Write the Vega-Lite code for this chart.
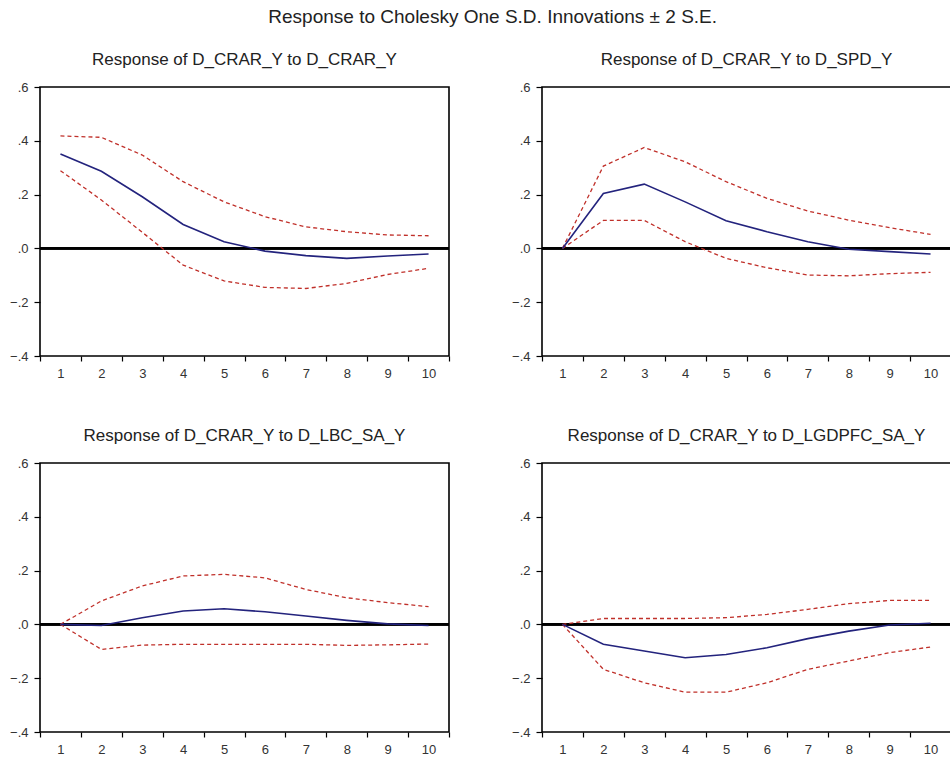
{
  "$schema": "https://vega.github.io/schema/vega-lite/v6.json",
  "background": "white",
  "padding": {"left": 8, "top": 8, "right": 0, "bottom": 0},
  "title": {"text": "Response to Cholesky One S.D. Innovations ± 2 S.E.", "fontSize": 19, "fontWeight": "normal", "color": "#222", "offset": 23, "anchor": "middle", "dx": 12},
  "datasets": {
    "irf": [
      {"shock": "D_CRAR_Y", "h": 1, "mid": 0.351, "lo": 0.289, "hi": 0.418},
      {"shock": "D_CRAR_Y", "h": 2, "mid": 0.287, "lo": 0.180, "hi": 0.413},
      {"shock": "D_CRAR_Y", "h": 3, "mid": 0.192, "lo": 0.060, "hi": 0.347},
      {"shock": "D_CRAR_Y", "h": 4, "mid": 0.089, "lo": -0.062, "hi": 0.248},
      {"shock": "D_CRAR_Y", "h": 5, "mid": 0.025, "lo": -0.121, "hi": 0.173},
      {"shock": "D_CRAR_Y", "h": 6, "mid": -0.010, "lo": -0.145, "hi": 0.118},
      {"shock": "D_CRAR_Y", "h": 7, "mid": -0.027, "lo": -0.149, "hi": 0.080},
      {"shock": "D_CRAR_Y", "h": 8, "mid": -0.037, "lo": -0.130, "hi": 0.062},
      {"shock": "D_CRAR_Y", "h": 9, "mid": -0.028, "lo": -0.097, "hi": 0.050},
      {"shock": "D_CRAR_Y", "h": 10, "mid": -0.021, "lo": -0.074, "hi": 0.047},
      {"shock": "D_SPD_Y", "h": 1, "mid": 0.0, "lo": 0.0, "hi": 0.0},
      {"shock": "D_SPD_Y", "h": 2, "mid": 0.204, "lo": 0.104, "hi": 0.306},
      {"shock": "D_SPD_Y", "h": 3, "mid": 0.239, "lo": 0.104, "hi": 0.375},
      {"shock": "D_SPD_Y", "h": 4, "mid": 0.173, "lo": 0.025, "hi": 0.322},
      {"shock": "D_SPD_Y", "h": 5, "mid": 0.103, "lo": -0.037, "hi": 0.248},
      {"shock": "D_SPD_Y", "h": 6, "mid": 0.062, "lo": -0.072, "hi": 0.186},
      {"shock": "D_SPD_Y", "h": 7, "mid": 0.025, "lo": -0.099, "hi": 0.139},
      {"shock": "D_SPD_Y", "h": 8, "mid": -0.003, "lo": -0.102, "hi": 0.105},
      {"shock": "D_SPD_Y", "h": 9, "mid": -0.012, "lo": -0.094, "hi": 0.077},
      {"shock": "D_SPD_Y", "h": 10, "mid": -0.021, "lo": -0.089, "hi": 0.052},
      {"shock": "D_LBC_SA_Y", "h": 1, "mid": 0.0, "lo": 0.0, "hi": 0.0},
      {"shock": "D_LBC_SA_Y", "h": 2, "mid": -0.004, "lo": -0.093, "hi": 0.087},
      {"shock": "D_LBC_SA_Y", "h": 3, "mid": 0.025, "lo": -0.077, "hi": 0.143},
      {"shock": "D_LBC_SA_Y", "h": 4, "mid": 0.050, "lo": -0.074, "hi": 0.180},
      {"shock": "D_LBC_SA_Y", "h": 5, "mid": 0.058, "lo": -0.074, "hi": 0.186},
      {"shock": "D_LBC_SA_Y", "h": 6, "mid": 0.047, "lo": -0.074, "hi": 0.173},
      {"shock": "D_LBC_SA_Y", "h": 7, "mid": 0.031, "lo": -0.074, "hi": 0.130},
      {"shock": "D_LBC_SA_Y", "h": 8, "mid": 0.015, "lo": -0.078, "hi": 0.099},
      {"shock": "D_LBC_SA_Y", "h": 9, "mid": 0.002, "lo": -0.076, "hi": 0.081},
      {"shock": "D_LBC_SA_Y", "h": 10, "mid": -0.004, "lo": -0.073, "hi": 0.066},
      {"shock": "D_LGDPFC_SA_Y", "h": 1, "mid": 0.0, "lo": 0.0, "hi": 0.0},
      {"shock": "D_LGDPFC_SA_Y", "h": 2, "mid": -0.074, "lo": -0.167, "hi": 0.022},
      {"shock": "D_LGDPFC_SA_Y", "h": 3, "mid": -0.099, "lo": -0.217, "hi": 0.022},
      {"shock": "D_LGDPFC_SA_Y", "h": 4, "mid": -0.124, "lo": -0.252, "hi": 0.022},
      {"shock": "D_LGDPFC_SA_Y", "h": 5, "mid": -0.112, "lo": -0.252, "hi": 0.025},
      {"shock": "D_LGDPFC_SA_Y", "h": 6, "mid": -0.087, "lo": -0.217, "hi": 0.037},
      {"shock": "D_LGDPFC_SA_Y", "h": 7, "mid": -0.053, "lo": -0.167, "hi": 0.056},
      {"shock": "D_LGDPFC_SA_Y", "h": 8, "mid": -0.025, "lo": -0.136, "hi": 0.077},
      {"shock": "D_LGDPFC_SA_Y", "h": 9, "mid": -0.002, "lo": -0.105, "hi": 0.089},
      {"shock": "D_LGDPFC_SA_Y", "h": 10, "mid": 0.004, "lo": -0.084, "hi": 0.089}
    ]
  },
  "spacing": 45,
  "vconcat": [
    {
      "spacing": 59,
      "hconcat": [
        {
          "width": 409, "height": 269,
          "title": "Response of D_CRAR_Y to D_CRAR_Y",
          "data": {"name": "irf"},
          "transform": [{"filter": "datum.shock === 'D_CRAR_Y'"}],
          "layer": [
            {"mark": {"type": "rule", "color": "#000", "strokeWidth": 1.6}, "encoding": {"y": {"datum": 0, "type": "quantitative", "scale": {"domain": [-0.4, 0.6], "nice": false, "zero": false}, "axis": {"title": null, "values": [-0.4, -0.2, 0, 0.2, 0.4, 0.6], "labelExpr": "replace(format(datum.value, '.1f'), '0.', '.')"}}}},
            {"mark": {"type": "line", "color": "#c0302a", "strokeWidth": 1.3, "strokeDash": [4, 3]}, "encoding": {"x": {"field": "h", "type": "ordinal", "bandPosition": 0.5, "scale": {"type": "band", "paddingInner": 0, "paddingOuter": 0}, "axis": {"title": null, "tickBand": "extent", "labelAngle": 0}}, "y": {"field": "hi", "type": "quantitative"}}},
            {"mark": {"type": "line", "color": "#c0302a", "strokeWidth": 1.3, "strokeDash": [4, 3]}, "encoding": {"x": {"field": "h", "type": "ordinal", "bandPosition": 0.5}, "y": {"field": "lo", "type": "quantitative"}}},
            {"mark": {"type": "line", "color": "#23237d", "strokeWidth": 1.6}, "encoding": {"x": {"field": "h", "type": "ordinal", "bandPosition": 0.5}, "y": {"field": "mid", "type": "quantitative"}}}
          ]
        },
        {
          "width": 409, "height": 269,
          "title": "Response of D_CRAR_Y to D_SPD_Y",
          "data": {"name": "irf"},
          "transform": [{"filter": "datum.shock === 'D_SPD_Y'"}],
          "layer": [
            {"mark": {"type": "rule", "color": "#000", "strokeWidth": 1.6}, "encoding": {"y": {"datum": 0, "type": "quantitative", "scale": {"domain": [-0.4, 0.6], "nice": false, "zero": false}, "axis": {"title": null, "values": [-0.4, -0.2, 0, 0.2, 0.4, 0.6], "labelExpr": "replace(format(datum.value, '.1f'), '0.', '.')"}}}},
            {"mark": {"type": "line", "color": "#c0302a", "strokeWidth": 1.3, "strokeDash": [4, 3]}, "encoding": {"x": {"field": "h", "type": "ordinal", "bandPosition": 0.5, "scale": {"type": "band", "paddingInner": 0, "paddingOuter": 0}, "axis": {"title": null, "tickBand": "extent", "labelAngle": 0}}, "y": {"field": "hi", "type": "quantitative"}}},
            {"mark": {"type": "line", "color": "#c0302a", "strokeWidth": 1.3, "strokeDash": [4, 3]}, "encoding": {"x": {"field": "h", "type": "ordinal", "bandPosition": 0.5}, "y": {"field": "lo", "type": "quantitative"}}},
            {"mark": {"type": "line", "color": "#23237d", "strokeWidth": 1.6}, "encoding": {"x": {"field": "h", "type": "ordinal", "bandPosition": 0.5}, "y": {"field": "mid", "type": "quantitative"}}}
          ]
        }
      ]
    },
    {
      "spacing": 59,
      "hconcat": [
        {
          "width": 409, "height": 269,
          "title": "Response of D_CRAR_Y to D_LBC_SA_Y",
          "data": {"name": "irf"},
          "transform": [{"filter": "datum.shock === 'D_LBC_SA_Y'"}],
          "layer": [
            {"mark": {"type": "rule", "color": "#000", "strokeWidth": 1.6}, "encoding": {"y": {"datum": 0, "type": "quantitative", "scale": {"domain": [-0.4, 0.6], "nice": false, "zero": false}, "axis": {"title": null, "values": [-0.4, -0.2, 0, 0.2, 0.4, 0.6], "labelExpr": "replace(format(datum.value, '.1f'), '0.', '.')"}}}},
            {"mark": {"type": "line", "color": "#c0302a", "strokeWidth": 1.3, "strokeDash": [4, 3]}, "encoding": {"x": {"field": "h", "type": "ordinal", "bandPosition": 0.5, "scale": {"type": "band", "paddingInner": 0, "paddingOuter": 0}, "axis": {"title": null, "tickBand": "extent", "labelAngle": 0}}, "y": {"field": "hi", "type": "quantitative"}}},
            {"mark": {"type": "line", "color": "#c0302a", "strokeWidth": 1.3, "strokeDash": [4, 3]}, "encoding": {"x": {"field": "h", "type": "ordinal", "bandPosition": 0.5}, "y": {"field": "lo", "type": "quantitative"}}},
            {"mark": {"type": "line", "color": "#23237d", "strokeWidth": 1.6}, "encoding": {"x": {"field": "h", "type": "ordinal", "bandPosition": 0.5}, "y": {"field": "mid", "type": "quantitative"}}}
          ]
        },
        {
          "width": 409, "height": 269,
          "title": "Response of D_CRAR_Y to D_LGDPFC_SA_Y",
          "data": {"name": "irf"},
          "transform": [{"filter": "datum.shock === 'D_LGDPFC_SA_Y'"}],
          "layer": [
            {"mark": {"type": "rule", "color": "#000", "strokeWidth": 1.6}, "encoding": {"y": {"datum": 0, "type": "quantitative", "scale": {"domain": [-0.4, 0.6], "nice": false, "zero": false}, "axis": {"title": null, "values": [-0.4, -0.2, 0, 0.2, 0.4, 0.6], "labelExpr": "replace(format(datum.value, '.1f'), '0.', '.')"}}}},
            {"mark": {"type": "line", "color": "#c0302a", "strokeWidth": 1.3, "strokeDash": [4, 3]}, "encoding": {"x": {"field": "h", "type": "ordinal", "bandPosition": 0.5, "scale": {"type": "band", "paddingInner": 0, "paddingOuter": 0}, "axis": {"title": null, "tickBand": "extent", "labelAngle": 0}}, "y": {"field": "hi", "type": "quantitative"}}},
            {"mark": {"type": "line", "color": "#c0302a", "strokeWidth": 1.3, "strokeDash": [4, 3]}, "encoding": {"x": {"field": "h", "type": "ordinal", "bandPosition": 0.5}, "y": {"field": "lo", "type": "quantitative"}}},
            {"mark": {"type": "line", "color": "#23237d", "strokeWidth": 1.6}, "encoding": {"x": {"field": "h", "type": "ordinal", "bandPosition": 0.5}, "y": {"field": "mid", "type": "quantitative"}}}
          ]
        }
      ]
    }
  ],
  "config": {
    "font": "Liberation Sans",
    "view": {"stroke": "#000", "strokeWidth": 1.6},
    "axis": {"domain": false, "grid": false, "tickColor": "#000", "tickWidth": 1.2, "labelColor": "#333", "labelFontSize": 13, "labelFont": "Liberation Sans"},
    "axisX": {"tickSize": 5, "labelPadding": 6},
    "axisY": {"tickSize": 6, "labelPadding": 6},
    "title": {"fontSize": 17, "fontWeight": "normal", "color": "#222", "offset": 12, "font": "Liberation Sans"}
  }
}
